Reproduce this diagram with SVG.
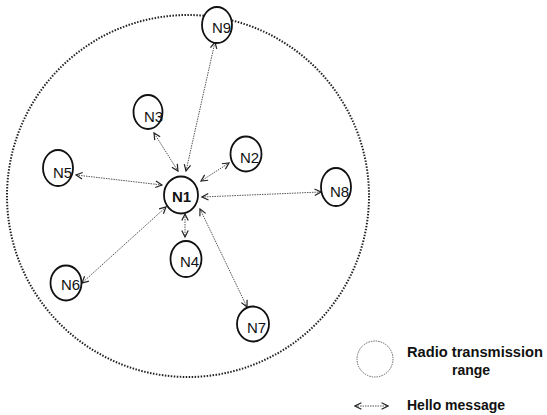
<svg xmlns="http://www.w3.org/2000/svg" width="547" height="415" viewBox="0 0 547 415">
<style>
.node{fill:#fff;stroke:#111;stroke-width:1.8}
.lbl{font-family:"Liberation Sans",Arial,sans-serif;font-size:15px;fill:#111}
.conn{stroke:#555;stroke-width:1;stroke-dasharray:1.5 1;fill:none;marker-start:url(#ah);marker-end:url(#ah)}
.leg{font-family:"Liberation Sans",Arial,sans-serif;font-size:14px;font-weight:bold;fill:#111}
</style>
<defs>
<marker id="ah" viewBox="0 0 10 10" refX="9" refY="5" markerWidth="8" markerHeight="8" markerUnits="userSpaceOnUse" orient="auto-start-reverse">
<path d="M1,1 L9,5 L1,9" fill="none" stroke="#222" stroke-width="1.5"/>
</marker>
</defs>
<rect width="547" height="415" fill="#fff"/>
<circle id="range" cx="188" cy="196" r="181" fill="none" stroke="#222" stroke-width="2" stroke-dasharray="1.5 1.5"/>
<g id="connectors">
<line class="conn" x1="186" y1="171" x2="215" y2="42"/>
<line class="conn" x1="178" y1="171" x2="154" y2="133"/>
<line class="conn" x1="201" y1="181" x2="229" y2="163"/>
<line class="conn" x1="162" y1="185" x2="76" y2="175"/>
<line class="conn" x1="202" y1="197" x2="321" y2="192"/>
<line class="conn" x1="185" y1="214" x2="185" y2="237"/>
<line class="conn" x1="166" y1="207" x2="82" y2="283"/>
<line class="conn" x1="200" y1="209" x2="247" y2="307"/>
</g>
<g id="N1"><ellipse class="node" cx="181" cy="195" rx="17" ry="18.5" stroke-width="2.2"/><text class="lbl" x="172" y="202" font-weight="bold">N1</text></g>
<g id="N2"><ellipse class="node" cx="246" cy="154" rx="15.5" ry="17.5"/><text class="lbl" x="240" y="163">N2</text></g>
<g id="N3"><ellipse class="node" cx="148" cy="112" rx="14.5" ry="17"/><text class="lbl" x="144" y="122">N3</text></g>
<g id="N4"><ellipse class="node" cx="186" cy="259" rx="15.5" ry="18"/><text class="lbl" x="180" y="267">N4</text></g>
<g id="N5"><ellipse class="node" cx="58" cy="168" rx="15" ry="18"/><text class="lbl" x="53" y="178">N5</text></g>
<g id="N6"><ellipse class="node" cx="66" cy="283" rx="15.5" ry="17.5"/><text class="lbl" x="61" y="290">N6</text></g>
<g id="N7"><ellipse class="node" cx="253" cy="324" rx="16" ry="17.5"/><text class="lbl" x="247" y="333">N7</text></g>
<g id="N8"><ellipse class="node" cx="336" cy="187" rx="15" ry="19"/><text class="lbl" x="330" y="197">N8</text></g>
<g id="N9"><ellipse class="node" cx="217" cy="25" rx="15" ry="18"/><text class="lbl" x="212" y="33">N9</text></g>
<g id="legend">
<ellipse cx="375" cy="359" rx="18" ry="18" fill="none" stroke="#666" stroke-width="1" stroke-dasharray="1.5 1"/>
<text class="leg" x="407" y="357" textLength="136" lengthAdjust="spacingAndGlyphs">Radio transmission</text>
<text class="leg" x="471" y="375" text-anchor="middle">range</text>
<line class="conn" x1="355" y1="406" x2="388" y2="406"/>
<text class="leg" x="407" y="410">Hello message</text>
</g>
</svg>
